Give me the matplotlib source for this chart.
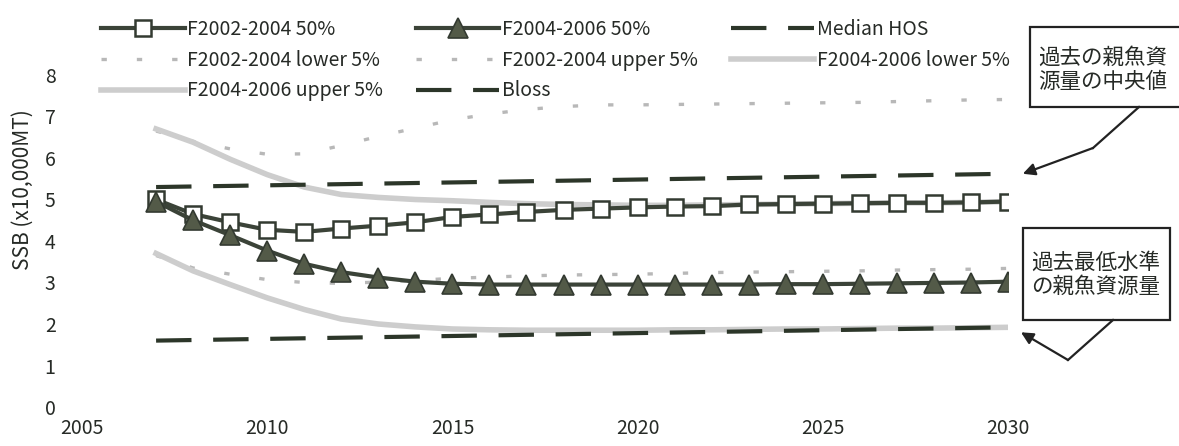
import matplotlib.pyplot as plt
from matplotlib.patches import Rectangle
from matplotlib.lines import Line2D

plt.rcParams['font.family'] = ['Noto Sans CJK JP', 'DejaVu Sans']

# data (x10,000 MT)
years = list(range(2007, 2031))

f0204_50 = [5.00, 4.65, 4.45, 4.27, 4.22, 4.30, 4.37, 4.45, 4.58, 4.64, 4.70, 4.75,
            4.78, 4.81, 4.83, 4.84, 4.88, 4.89, 4.90, 4.91, 4.92, 4.92, 4.93, 4.95]
f0406_50 = [4.95, 4.50, 4.14, 3.77, 3.45, 3.25, 3.12, 3.02, 2.97, 2.95, 2.95, 2.95,
            2.95, 2.95, 2.95, 2.95, 2.95, 2.96, 2.96, 2.97, 2.98, 2.99, 3.00, 3.02]
f0204_lo = [3.65, 3.35, 3.20, 3.07, 3.00, 2.98, 3.01, 3.05, 3.10, 3.13, 3.16, 3.18,
            3.19, 3.20, 3.22, 3.24, 3.25, 3.26, 3.27, 3.28, 3.30, 3.31, 3.32, 3.34]
f0204_up = [6.65, 6.40, 6.22, 6.09, 6.10, 6.30, 6.52, 6.72, 6.92, 7.06, 7.17, 7.24,
            7.28, 7.28, 7.29, 7.30, 7.31, 7.32, 7.33, 7.34, 7.36, 7.38, 7.40, 7.41]
f0406_lo = [3.70, 3.28, 2.95, 2.63, 2.35, 2.12, 2.00, 1.93, 1.88, 1.86, 1.85, 1.85,
            1.85, 1.85, 1.86, 1.86, 1.87, 1.88, 1.88, 1.89, 1.90, 1.90, 1.91, 1.92]
f0406_up = [6.70, 6.38, 5.97, 5.60, 5.30, 5.12, 5.05, 5.00, 4.97, 4.93, 4.90, 4.88,
            4.87, 4.86, 4.86, 4.87, 4.88, 4.89, 4.90, 4.91, 4.92, 4.92, 4.93, 4.95]

ref_years = [2007, 2030]
median_hos = [5.30, 5.62]
bloss = [1.60, 1.92]

W, H = 1179, 446
dark = '#2c3629'
gray = '#cdcdcd'
dotgray = '#b8b8b8'
txt = '#262a26'

fig = plt.figure(figsize=(W / 100, H / 100), dpi=100)
ax = fig.add_axes([82 / W, 39 / H, 926 / W, 332 / H])

l1, = ax.plot(years, f0204_50, color='#3b4338', lw=3, marker='s', ms=12,
              mfc='white', mec='#333a31', mew=1.8, zorder=5, label='F2002-2004 50%')
l2, = ax.plot(years, f0406_50, color='#3b4338', lw=3, marker='^', ms=14,
              mfc='#535a48', mec='#333a31', mew=1.2, zorder=5, label='F2004-2006 50%')
l3, = ax.plot(ref_years, median_hos, color=dark, lw=3, ls=(0, (8.5, 5.2)),
              zorder=3, label='Median HOS')
l4, = ax.plot(years, f0204_lo, color=dotgray, lw=2.4, ls=(0, (1.6, 9)),
              zorder=2, label='F2002-2004 lower 5%')
l5, = ax.plot(years, f0204_up, color=dotgray, lw=2.4, ls=(0, (1.6, 9)),
              zorder=2, label='F2002-2004 upper 5%')
l6, = ax.plot(years, f0406_lo, color=gray, lw=4, zorder=2, label='F2004-2006 lower 5%')
l7, = ax.plot(years, f0406_up, color=gray, lw=4, zorder=2, label='F2004-2006 upper 5%')
l8, = ax.plot(ref_years, bloss, color=dark, lw=3, ls=(0, (8.5, 5.2)),
              zorder=3, label='Bloss')

ax.set_xlim(2005, 2030)
ax.set_ylim(0, 8)
ax.set_xticks(range(2005, 2031, 5))
ax.set_yticks(range(0, 9))
for s in ax.spines.values():
    s.set_visible(False)
ax.tick_params(axis='both', length=0, labelsize=14, labelcolor=txt)
ax.tick_params(axis='y', pad=19)
ax.tick_params(axis='x', pad=8)
ax.set_ylabel('SSB (x10,000MT)', fontsize=15, color=txt)
ax.yaxis.set_label_coords(-0.052, 0.654)

# legend, filled column by column so it reads row by row like the original
handles = [l1, l4, l7, l2, l5, l8, l3, l6]
fig.legend(handles=handles, labels=[h.get_label() for h in handles], ncol=3,
           loc='upper left', bbox_to_anchor=(101 / W, 1 - 19 / H), frameon=False,
           fontsize=14, handlelength=4.3, handletextpad=0.12, columnspacing=1.7,
           labelspacing=0.5, borderpad=0, borderaxespad=0, labelcolor=txt)


def fpx(x, y):
    return (x / W, 1 - y / H)


# callout boxes
box1 = Rectangle(fpx(1030, 107), 220 / W, 80 / H, transform=fig.transFigure,
                 facecolor='white', edgecolor='#222', lw=1.6, clip_on=False)
box2 = Rectangle(fpx(1023, 320), 147 / W, 92 / H, transform=fig.transFigure,
                 facecolor='white', edgecolor='#222', lw=1.6, clip_on=False)
fig.patches.extend([box1, box2])
fig.text(*fpx(1103, 70), '過去の親魚資\n源量の中央値', fontsize=15.5, color=txt,
         ha='center', va='center', linespacing=1.15)
fig.text(*fpx(1096, 275), '過去最低水準\nの親魚資源量', fontsize=15.5, color=txt,
         ha='center', va='center', linespacing=1.15)

fig.lines.append(Line2D([1139 / W, 1093 / W], [1 - 107 / H, 1 - 148 / H],
                        transform=fig.transFigure, color='#222', lw=1.6))
fig.lines.append(Line2D([1113 / W, 1068 / W], [1 - 320 / H, 1 - 360 / H],
                        transform=fig.transFigure, color='#222', lw=1.6))
arrow = dict(arrowstyle='-|>', color='#222', lw=1.6, mutation_scale=18,
             shrinkA=0, shrinkB=0)
ax.annotate('', xy=(2030.4, median_hos[-1]), xytext=fpx(1093, 148),
            textcoords='figure fraction', arrowprops=arrow, annotation_clip=False)
ax.annotate('', xy=(2030.35, bloss[-1] - 0.12), xytext=fpx(1068, 360),
            textcoords='figure fraction', arrowprops=arrow, annotation_clip=False)

fig.savefig('out.png', dpi=100)
